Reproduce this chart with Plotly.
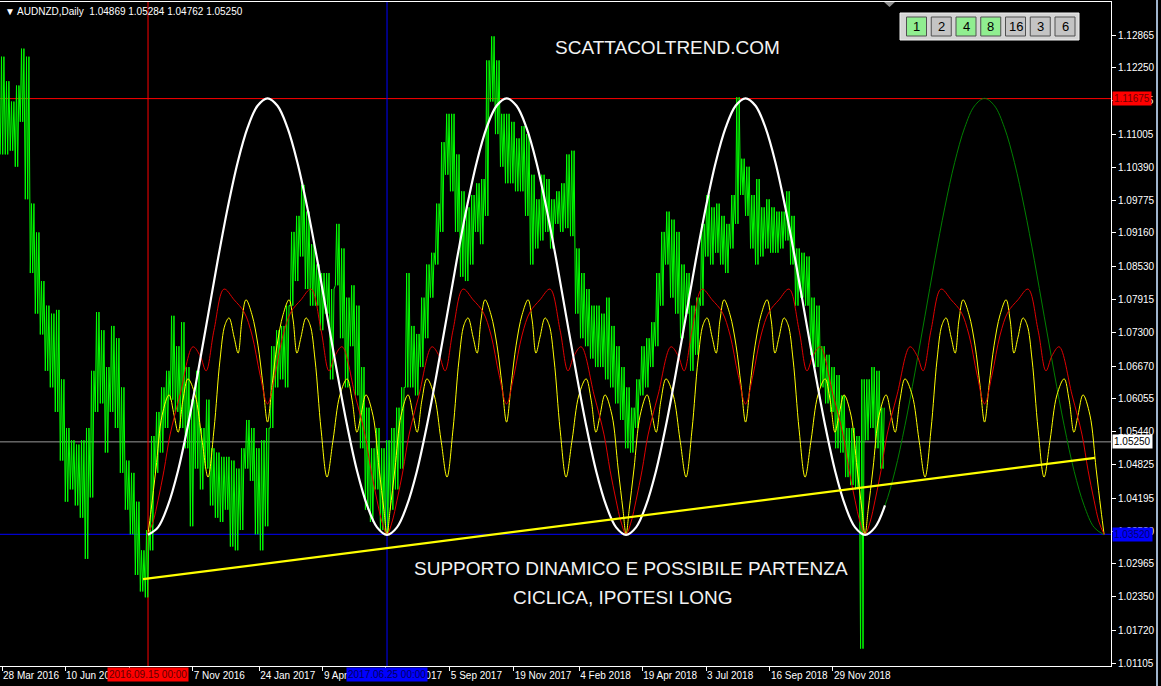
import plotly.graph_objects as go
import pandas as pd

W, H = 1161, 686
ML, MR, MT, MB = 0, 50, 2, 20
PW, PH = W - ML - MR, H - MT - MB


def px_x(x):
    return (x - ML) / PW


def px_y(y):
    return 1 - (y - MT) / PH


# ---------------- data ----------------
bin_start = "2016-03-25 15:00"
bin_hours = 141
price_high = [1.1246, 1.1200, 1.1162, 1.1192, 1.1261, 1.1246, 1.0971, 1.0917, 1.0826, 1.0780,
              1.0765, 1.0772, 1.0642, 1.0551, 1.0528, 1.0520, 1.0528, 1.0551, 1.0658, 1.0768,
              1.0734, 1.0665, 1.0742, 1.0719, 1.0627, 1.0490, 1.0467, 1.0413, 1.0322, 1.0360,
              1.0536, 1.0581, 1.0627, 1.0658, 1.0761, 1.0704, 1.0749, 1.0665, 1.0604, 1.0658,
              1.0551, 1.0604, 1.0513, 1.0505, 1.0497, 1.0497, 1.0490, 1.0475, 1.0513, 1.0566,
              1.0551, 1.0513, 1.0528, 1.0551, 1.0704, 1.0734, 1.0742, 1.0780, 1.0918, 1.0948,
              1.1006, 1.0956, 1.0895, 1.0857, 1.0841, 1.0841, 1.0811, 1.0933, 1.0887, 1.0795,
              1.0818, 1.0780, 1.0665, 1.0589, 1.0513, 1.0551, 1.0513, 1.0528, 1.0551, 1.0589,
              1.0627, 1.0841, 1.0742, 1.0727, 1.0795, 1.0857, 1.0879, 1.0971, 1.1086, 1.1139,
              1.1139, 1.1063, 1.0994, 1.0964, 1.0987, 1.1009, 1.1017, 1.1239, 1.1284, 1.1239,
              1.1139, 1.1139, 1.1124, 1.1093, 1.1116, 1.1101, 1.1025, 1.0979, 1.1025, 1.1017,
              1.0979, 1.0994, 1.1009, 1.1063, 1.1070, 1.0887, 1.0841, 1.0811, 1.0780, 1.0780,
              1.0765, 1.0795, 1.0742, 1.0704, 1.0665, 1.0627, 1.0589, 1.0642, 1.0704, 1.0719,
              1.0749, 1.0841, 1.0918, 1.0956, 1.0941, 1.0918, 1.0857, 1.0841, 1.0780, 1.0795,
              1.0933, 1.0987, 1.0964, 1.0971, 1.0948, 1.0933, 1.0987, 1.1170, 1.1055, 1.1040,
              1.0987, 1.1017, 1.0964, 1.0979, 1.0964, 1.0956, 1.0956, 1.0994, 1.0948, 1.0887,
              1.0879, 1.0872, 1.0795, 1.0780, 1.0704, 1.0688, 1.0665, 1.0650, 1.0612, 1.0551,
              1.0551, 1.0536, 1.0642, 1.0642, 1.0665, 1.0658, 1.0589]
price_low = [1.1063, 1.1063, 1.1070, 1.1040, 1.1124, 1.0979, 1.0841, 1.0765, 1.0726, 1.0658,
             1.0627, 1.0581, 1.0490, 1.0413, 1.0436, 1.0406, 1.0383, 1.0306, 1.0421, 1.0581,
             1.0597, 1.0505, 1.0581, 1.0551, 1.0467, 1.0398, 1.0352, 1.0276, 1.0245, 1.0234,
             1.0322, 1.0467, 1.0505, 1.0551, 1.0604, 1.0581, 1.0551, 1.0513, 1.0367, 1.0475,
             1.0436, 1.0475, 1.0406, 1.0383, 1.0375, 1.0398, 1.0329, 1.0322, 1.0360, 1.0475,
             1.0452, 1.0352, 1.0322, 1.0367, 1.0551, 1.0627, 1.0642, 1.0627, 1.0780, 1.0826,
             1.0872, 1.0811, 1.0780, 1.0780, 1.0734, 1.0765, 1.0642, 1.0818, 1.0719, 1.0627,
             1.0704, 1.0612, 1.0513, 1.0398, 1.0375, 1.0436, 1.0360, 1.0351, 1.0398, 1.0436,
             1.0475, 1.0627, 1.0627, 1.0612, 1.0665, 1.0719, 1.0795, 1.0857, 1.0918, 1.1025,
             1.0994, 1.0918, 1.0834, 1.0826, 1.0857, 1.0918, 1.0895, 1.0948, 1.1162, 1.1101,
             1.1040, 1.1009, 1.1009, 1.0994, 1.0994, 1.0948, 1.0857, 1.0887, 1.0902, 1.0918,
             1.0887, 1.0933, 1.0918, 1.0925, 1.0910, 1.0765, 1.0719, 1.0704, 1.0681, 1.0665,
             1.0665, 1.0642, 1.0627, 1.0597, 1.0566, 1.0513, 1.0505, 1.0551, 1.0612, 1.0627,
             1.0665, 1.0704, 1.0780, 1.0857, 1.0795, 1.0765, 1.0719, 1.0765, 1.0658, 1.0688,
             1.0780, 1.0872, 1.0857, 1.0879, 1.0857, 1.0841, 1.0887, 1.0933, 1.0987, 1.0948,
             1.0887, 1.0857, 1.0872, 1.0887, 1.0879, 1.0879, 1.0887, 1.0902, 1.0857, 1.0780,
             1.0795, 1.0780, 1.0688, 1.0665, 1.0627, 1.0597, 1.0581, 1.0513, 1.0505, 1.0459,
             1.0444, 1.0436, 1.0138, 1.0528, 1.0551, 1.0513, 1.0475]

cycle_lows = ["2016-09-15 12:00", "2017-06-23 05:00", "2018-03-31 00:00",
              "2019-01-05 17:00", "2019-10-13 10:00"]
# white master cycle: half-cycle samples (12 steps low -> high)
white_half = [1.0351, 1.0365, 1.0406, 1.0470, 1.0555, 1.0654, 1.0759,
              1.0865, 1.0963, 1.1048, 1.1113, 1.1154, 1.1168]
white_end_steps = 2
# red composite cycle: half-cycle (phase in fraction of cycle, price)
red_phase = [0.0, 0.021, 0.042, 0.067, 0.092, 0.134, 0.188, 0.218, 0.243, 0.276,
             0.318, 0.360, 0.402, 0.435, 0.469, 0.5]
red_half = [1.0352, 1.0375, 1.0416, 1.0472, 1.0538, 1.0613, 1.0703, 1.0686, 1.0658, 1.0734,
            1.0811, 1.0791, 1.0768, 1.0725, 1.0650, 1.0596]
# yellow composite cycle: half-cycle
yel_phase = [0.0, 0.013, 0.033, 0.059, 0.088, 0.109, 0.126, 0.146, 0.167, 0.197,
             0.226, 0.251, 0.276, 0.301, 0.322, 0.339, 0.360, 0.377, 0.393, 0.410,
             0.435, 0.460, 0.481, 0.5]
yel_half = [1.0352, 1.0398, 1.0474, 1.0575, 1.0613, 1.0575, 1.0543, 1.0603, 1.0643, 1.0613,
            1.0528, 1.0459, 1.0548, 1.0678, 1.0744, 1.0757, 1.0721, 1.0691, 1.0753, 1.0791,
            1.0763, 1.0706, 1.0631, 1.0562]

trend_dates = ["2016-09-09 14:00", "2019-10-02 19:00"]
trend_values = [1.0268, 1.0495]

level_high = 1.11675
level_low = 1.03520
bid_price = 1.05250
vline_red = "2016-09-15 12:00"
vline_blue = "2017-06-23 05:00"

y_ticks = [1.12865, 1.12250, 1.11635, 1.11005, 1.10390, 1.09775, 1.09160, 1.08530, 1.07915,
           1.07300, 1.06670, 1.06055, 1.05440, 1.04825, 1.04195, 1.03580, 1.02965, 1.02350,
           1.01720, 1.01105]
x_tick_dates = ["2016-03-28", "2016-06-10", "2016-08-25", "2016-11-07", "2017-01-24",
                "2017-04-09", "2017-06-22", "2017-09-05", "2017-11-19", "2018-02-04",
                "2018-04-19", "2018-07-03", "2018-09-16", "2018-11-29"]
x_tick_text = ["28 Mar 2016", "10 Jun 2016", "25 Aug 2016", "7 Nov 2016", "24 Jan 2017",
               "9 Apr 2017", "22 Jun 2017", "5 Sep 2017", "19 Nov 2017", "4 Feb 2018",
               "19 Apr 2018", "3 Jul 2018", "16 Sep 2018", "29 Nov 2018"]
buttons = ["1", "2", "4", "8", "16", "3", "6"]
buttons_on = [True, False, True, True, False, False, False]

x_range = ["2016-03-25 15:00", "2019-10-21 14:00"]
y_range = [1.01055, 1.13483]

# ---------------- build series ----------------
# each reading period is drawn as a dense run of high/low strokes
bin_dates = pd.date_range(bin_start, periods=len(price_high), freq=f"{bin_hours}h")
stroke_offsets = [8, 42, 76, 110]
zig_x, zig_y = [], []
for d, hi, lo in zip(bin_dates, price_high, price_low):
    for k, off in enumerate(stroke_offsets):
        zig_x.append(d + pd.Timedelta(hours=off))
        zig_y.append(lo if k % 2 == 0 else hi)

lows = pd.to_datetime(cycle_lows)


def full_cycle(phase, half):
    ph = list(phase) + [1 - p for p in reversed(phase[:-1])]
    vals = list(half) + list(reversed(half[:-1]))
    return ph, vals


def cycle_series(phase, vals, cycles):
    xs, ys = [], []
    for c in cycles:
        start, end = lows[c], lows[c + 1]
        span = end - start
        for k, (p, v) in enumerate(zip(phase, vals)):
            if xs and k == 0:
                continue
            xs.append(start + span * p)
            ys.append(v)
    return xs, ys


n = len(white_half) - 1
w_phase = [i / (2 * n) for i in range(2 * n + 1)]
w_vals = list(white_half) + list(reversed(white_half[:-1]))
wx, wy = cycle_series(w_phase, w_vals, [0, 1, 2])
span3 = lows[4] - lows[3]
for i in range(1, white_end_steps + 1):
    wx.append(lows[3] + span3 * w_phase[i])
    wy.append(w_vals[i])
gx, gy = cycle_series(w_phase, w_vals, [3])

rp, rv = full_cycle(red_phase, red_half)
rx, ry = cycle_series(rp, rv, [0, 1, 2, 3])
yp, yv = full_cycle(yel_phase, yel_half)
yx, yy = cycle_series(yp, yv, [0, 1, 2, 3])

fig = go.Figure()
fig.add_trace(go.Scatter(x=zig_x, y=zig_y, mode="lines",
                         line=dict(color="#00ff00", width=1), hoverinfo="skip"))
fig.add_trace(go.Scatter(x=gx, y=gy, mode="lines", line=dict(color="#008000", width=1, shape="spline"),
                         hoverinfo="skip"))
fig.add_trace(go.Scatter(x=yx, y=yy, mode="lines", line=dict(color="#ffff00", width=1, shape="spline"),
                         hoverinfo="skip"))
fig.add_trace(go.Scatter(x=rx, y=ry, mode="lines", line=dict(color="#e00000", width=1, shape="spline"),
                         hoverinfo="skip"))
fig.add_trace(go.Scatter(x=wx, y=wy, mode="lines", line=dict(color="#ffffff", width=2.2, shape="spline"),
                         hoverinfo="skip"))
fig.add_trace(go.Scatter(x=pd.to_datetime(trend_dates), y=trend_values, mode="lines",
                         line=dict(color="#ffff00", width=2.2), hoverinfo="skip"))

shapes = []
# horizontal levels
for lvl, col in [(level_high, "#ff0000"), (level_low, "#0000ff"), (bid_price, "#9a9a9a")]:
    shapes.append(dict(type="line", xref="paper", x0=0, x1=1, yref="y", y0=lvl, y1=lvl,
                       line=dict(color=col, width=1), layer="below"))
for d, col in [(vline_red, "#ff0000"), (vline_blue, "#0000ff")]:
    shapes.append(dict(type="line", xref="x", x0=d, x1=d, yref="paper", y0=0, y1=1,
                       line=dict(color=col, width=1), layer="below"))

# button panel
shapes.append(dict(type="rect", xref="paper", yref="paper", x0=px_x(900), x1=px_x(1079),
                   y0=px_y(40), y1=px_y(13), fillcolor="#d4d4d4",
                   line=dict(color="#f0f0f0", width=1), layer="above"))
annotations = []
for i, (b, on) in enumerate(zip(buttons, buttons_on)):
    left = 906.5 + 24.75 * i
    shapes.append(dict(type="rect", xref="paper", yref="paper", x0=px_x(left), x1=px_x(left + 20),
                       y0=px_y(36), y1=px_y(17),
                       fillcolor="#90ee90" if on else "#c4c4c4",
                       line=dict(color="#505050", width=1), layer="above"))
    annotations.append(dict(xref="paper", yref="paper", x=px_x(left + 10), y=px_y(26.5),
                            text=b, showarrow=False, xanchor="center", yanchor="middle",
                            font=dict(family="Liberation Sans, Arial", size=13, color="#000000")))
# chart-shift triangle
shapes.append(dict(type="path", xref="paper", yref="paper",
                   path=f"M {px_x(884)},{px_y(2)} L {px_x(895)},{px_y(2)} L {px_x(889.5)},{px_y(7)} Z",
                   fillcolor="#909090", line=dict(width=0), layer="above"))
# window edge strip
shapes.append(dict(type="line", xref="paper", yref="paper", x0=px_x(1157), x1=px_x(1157),
                   y0=px_y(686), y1=px_y(0), line=dict(color="#9fb4cc", width=2)))

lab_font = "Liberation Sans, Arial, DejaVu Sans"
# axis price labels
for val, bg, fg in [(level_high, "#ff0000", "#700000"), (level_low, "#0000ff", "#000070"),
                    (bid_price, "#ffffff", "#000000")]:
    annotations.append(dict(xref="paper", yref="y", x=1, y=val, xanchor="left", yanchor="middle",
                            xshift=1, text=f"{val:.5f}", showarrow=False, bgcolor=bg, borderpad=1,
                            font=dict(family=lab_font, size=10, color=fg)))
# bottom date labels
for d, txt, bg, fg in [(vline_red, "2016.09.15 00:00", "#ff0000", "#600000"),
                       (vline_blue, "2017.06.25 00:00", "#0000ff", "#000060")]:
    annotations.append(dict(xref="x", yref="paper", x=d, y=0, xanchor="center", yanchor="top",
                            yshift=-1, text=txt, showarrow=False, bgcolor=bg, borderpad=1,
                            font=dict(family=lab_font, size=10, color=fg)))
# title
annotations.append(dict(xref="paper", yref="paper", x=px_x(3), y=px_y(4), xanchor="left", yanchor="top",
                        text="▼ AUDNZD,Daily  1.04869 1.05284 1.04762 1.05250", showarrow=False,
                        font=dict(family=lab_font, size=10, color="#ffffff")))
big = dict(family="Liberation Sans, Arial", size=19, color="#f2f2f2")
annotations.append(dict(xref="paper", yref="paper", x=px_x(667), y=px_y(48), text="SCATTACOLTREND.COM",
                        showarrow=False, xanchor="center", yanchor="middle", font=big))
annotations.append(dict(xref="paper", yref="paper", x=px_x(631), y=px_y(568),
                        text="SUPPORTO DINAMICO E POSSIBILE PARTENZA",
                        showarrow=False, xanchor="center", yanchor="middle", font=big))
annotations.append(dict(xref="paper", yref="paper", x=px_x(623), y=px_y(597),
                        text="CICLICA, IPOTESI LONG",
                        showarrow=False, xanchor="center", yanchor="middle", font=big))

fig.update_layout(
    width=W, height=H, margin=dict(l=ML, r=MR, t=MT, b=MB, autoexpand=False),
    paper_bgcolor="#000000", plot_bgcolor="#000000", showlegend=False,
    shapes=shapes, annotations=annotations,
    xaxis=dict(type="date", range=x_range, showgrid=False, zeroline=False, automargin=False,
               showline=True, linecolor="#ffffff", linewidth=1, mirror=True,
               tickvals=x_tick_dates, ticktext=x_tick_text, ticks="outside", ticklen=4,
               tickangle=0, tickcolor="#ffffff", ticklabelposition="outside right",
               tickfont=dict(family=lab_font, size=10, color="#ffffff")),
    yaxis=dict(range=y_range, side="right", showgrid=False, zeroline=False, automargin=False,
               showline=True, linecolor="#ffffff", linewidth=1, mirror=True,
               tickvals=y_ticks, ticktext=[f"{v:.5f}" for v in y_ticks], ticks="outside",
               ticklen=4, tickcolor="#ffffff",
               tickfont=dict(family=lab_font, size=10, color="#ffffff")),
)

fig.write_html("out.html", config={"displayModeBar": False},
               post_script="document.body.style.margin='0';document.body.style.background='#000';")
